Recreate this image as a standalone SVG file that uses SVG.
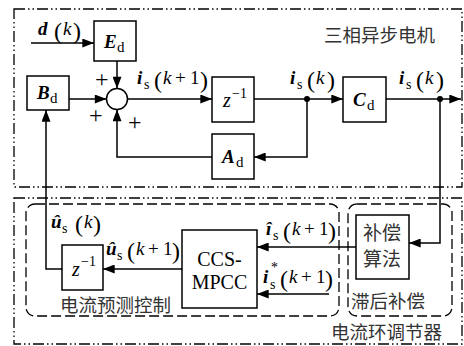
<svg xmlns="http://www.w3.org/2000/svg" width="464" height="346" viewBox="0 0 464 346">
<defs>
<marker id="ah" viewBox="0 0 13 10" refX="13" refY="5" markerWidth="13" markerHeight="9" markerUnits="userSpaceOnUse" orient="auto">
<path d="M0,0 L13,5 L0,10 z" fill="#000"/>
</marker>
<style>
.box{fill:#fff;stroke:#000;stroke-width:1.5}
.frame{fill:none;stroke:#000;stroke-width:1.3;stroke-dasharray:11 3 1.5 3 1.5 3}
.dash{fill:none;stroke:#000;stroke-width:1.3;stroke-dasharray:10 4}
.wire{fill:none;stroke:#000;stroke-width:1.5}
.arr{marker-end:url(#ah)}
.t{font-family:"Liberation Serif","Times New Roman",serif;fill:#000}
.v{font-weight:bold;font-style:italic;font-size:19px}
.k{font-style:italic;font-size:19px}
.n{font-size:19px}
.s{font-size:14px}
.sd{font-size:15px}
.p{font-size:24px}
.pl{font-size:24px}
.cn{font-family:"Noto Sans CJK SC",sans-serif;fill:#333;font-size:18.5px}
</style>
</defs>

<g id="frames">
<rect class="frame" x="14" y="9" width="448" height="178"/>
<rect class="frame" x="14" y="198" width="448" height="146"/>
<rect class="dash" x="26" y="204" width="313" height="112" rx="9"/>
<rect class="dash" x="348" y="204" width="104" height="112" rx="9"/>
<text class="cn" x="324" y="42">三相异步电机</text>
<text class="cn" x="60" y="312">电流预测控制</text>
<text class="cn" x="351" y="308">滞后补偿</text>
<text class="cn" x="331" y="339">电流环调节器</text>
</g>

<g id="connectors">
<path class="wire arr" d="M31,43 H94"/>
<path class="wire arr" d="M117,61 V88.5"/>
<path class="wire arr" d="M69,99 H106.5"/>
<path class="wire arr" d="M127.5,99 H212"/>
<path class="wire arr" d="M254,99 H343"/>
<path class="wire arr" d="M386,99 H461"/>
<path class="wire arr" d="M307,99 V157 H254"/>
<path class="wire arr" d="M212,157 H117 V109.5"/>
<path class="wire arr" d="M440,99 V243 H409"/>
<path class="wire arr" d="M356,247 H257"/>
<path class="wire arr" d="M329,294 H257"/>
<path class="wire arr" d="M182,269 H103"/>
<path class="wire arr" d="M62,269 H46 V110"/>
<circle cx="307" cy="99" r="3" fill="#000"/>
<circle cx="440" cy="99" r="3" fill="#000"/>
<text class="t pl" x="95" y="87">+</text>
<text class="t pl" x="89" y="123">+</text>
<text class="t pl" x="128" y="130">+</text>
<text class="t" y="35"><tspan class="v" x="38">d</tspan><tspan class="p" x="54" y="39">(</tspan><tspan class="k" x="63" y="35">k</tspan><tspan class="p" x="73" y="39">)</tspan></text>
<text class="t" y="84"><tspan class="v" x="137">i</tspan><tspan class="s" x="144" y="89">s</tspan><tspan class="p" x="154" y="88">(</tspan><tspan class="k" x="163" y="84">k</tspan><tspan class="n" x="175">+</tspan><tspan class="n" x="190">1</tspan><tspan class="p" x="200" y="88">)</tspan></text>
<text class="t" y="84"><tspan class="v" x="290">i</tspan><tspan class="s" x="297" y="89">s</tspan><tspan class="p" x="307" y="88">(</tspan><tspan class="k" x="316" y="84">k</tspan><tspan class="p" x="327" y="88">)</tspan></text>
<text class="t" y="84"><tspan class="v" x="399">i</tspan><tspan class="s" x="406" y="89">s</tspan><tspan class="p" x="416" y="88">(</tspan><tspan class="k" x="425" y="84">k</tspan><tspan class="p" x="436" y="88">)</tspan></text>
<text class="t" y="228"><tspan class="v" x="51">û</tspan><tspan class="s" x="62" y="233">s</tspan><tspan class="p" x="75" y="232">(</tspan><tspan class="k" x="84" y="228">k</tspan><tspan class="p" x="93" y="232">)</tspan></text>
<text class="t" y="255"><tspan class="v" x="106">û</tspan><tspan class="s" x="117" y="260">s</tspan><tspan class="p" x="127" y="259">(</tspan><tspan class="k" x="136" y="255">k</tspan><tspan class="n" x="148">+</tspan><tspan class="n" x="163">1</tspan><tspan class="p" x="172" y="259">)</tspan></text>
<text class="t" y="235"><tspan class="v" x="266">î</tspan><tspan class="s" x="273" y="240">s</tspan><tspan class="p" x="283" y="239">(</tspan><tspan class="k" x="292" y="235">k</tspan><tspan class="n" x="304">+</tspan><tspan class="n" x="319">1</tspan><tspan class="p" x="328" y="239">)</tspan></text>
<text class="t" y="283"><tspan class="v" x="263">i</tspan><tspan class="s" x="271" y="272">*</tspan><tspan class="s" x="270" y="289">s</tspan><tspan class="p" x="280" y="287">(</tspan><tspan class="k" x="289" y="283">k</tspan><tspan class="n" x="301">+</tspan><tspan class="n" x="316">1</tspan><tspan class="p" x="325" y="287">)</tspan></text>
</g>

<g id="sum">
<circle cx="117" cy="99" r="10.5" fill="#fff" stroke="#000" stroke-width="1.5"/>
</g>
<g id="Ed">
<rect class="box" x="94" y="21" width="42" height="40"/>
<text class="t" y="48"><tspan class="v" x="104">E</tspan><tspan class="sd" x="117" y="52">d</tspan></text>
</g>
<g id="Bd">
<rect class="box" x="27" y="76" width="42" height="34"/>
<text class="t" y="99"><tspan class="v" x="37">B</tspan><tspan class="sd" x="50" y="103">d</tspan></text>
</g>
<g id="z1">
<rect class="box" x="212" y="77" width="42" height="45"/>
<text class="t" y="107"><tspan class="k" x="223" style="font-size:20px">z</tspan><tspan class="s" x="232" y="98">−1</tspan></text>
</g>
<g id="Ad">
<rect class="box" x="212" y="134" width="42" height="45"/>
<text class="t" y="163"><tspan class="v" x="222">A</tspan><tspan class="sd" x="236" y="167">d</tspan></text>
</g>
<g id="Cd">
<rect class="box" x="343" y="77" width="43" height="45"/>
<text class="t" y="106"><tspan class="v" x="353">C</tspan><tspan class="sd" x="367" y="110">d</tspan></text>
</g>
<g id="comp">
<rect class="box" x="356" y="215" width="53" height="64"/>
<text class="cn" x="363" y="240" style="font-size:19px">补偿</text>
<text class="cn" x="363" y="266" style="font-size:19px">算法</text>
</g>
<g id="mpcc">
<rect class="box" x="182" y="230" width="75" height="78"/>
<text class="t" x="219.5" y="266" text-anchor="middle" style="font-size:20px">CCS-</text>
<text class="t" x="219.5" y="289" text-anchor="middle" style="font-size:20px">MPCC</text>
</g>
<g id="z2">
<rect class="box" x="62" y="245" width="41" height="45"/>
<text class="t" y="276"><tspan class="k" x="72" style="font-size:20px">z</tspan><tspan class="s" x="81" y="266">−1</tspan></text>
</g>
</svg>
